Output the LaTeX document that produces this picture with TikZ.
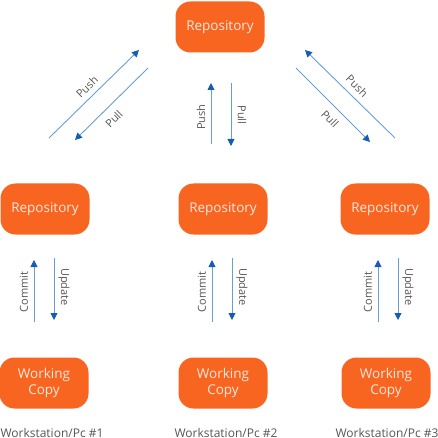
\documentclass[tikz,border=0pt]{standalone}
\usepackage{fontspec}
\setmainfont{Open Sans}
\usetikzlibrary{positioning,arrows.meta}
\definecolor{boxColor}{RGB}{247,101,33}
\definecolor{boxText}{RGB}{253,232,220}
\definecolor{lineColor}{RGB}{104,158,214}
\definecolor{headColor}{RGB}{21,92,178}
\definecolor{labelColor}{RGB}{85,85,85}
\tikzstyle{diagram} = [x = 1pt, y = -1pt]
\tikzstyle{repoBox} = [fill=boxColor, text=boxText, rounded corners = 15pt, minimum width = 89pt, minimum height = 51pt, font=\fontsize{13.5}{16}\selectfont, align=center, inner sep=0pt]
\tikzstyle{flowArrow} = [color=lineColor, line width=.9pt, -{Triangle[length=7pt, width=7pt, color=headColor]}]
\tikzstyle{arrowText} = [text=labelColor, font=\fontsize{11}{13}\selectfont, inner sep=0pt]
\tikzstyle{stationText} = [text=labelColor, font=\fontsize{12}{14}\selectfont, inner sep=0pt]
% one commit/update pair between a repository and its working copy
\newcommand{\commitPair}[2]{
  \coordinate (#2commitStart) at (#1, 322);
  \coordinate (#2commitEnd) at (#1, 260);
  \coordinate (#2updateStart) at (#1 + 20, 258);
  \coordinate (#2updateEnd) at (#1 + 20, 320);
  \draw [flowArrow] (#2commitStart) -- (#2commitEnd);
  \draw [flowArrow] (#2updateStart) -- (#2updateEnd);
  \node [arrowText, rotate=90] (#2commitText) at (#1 - 10, 292) {Commit};
  \node [arrowText, rotate=-90] (#2updateText) at (#1 + 30, 287) {Update};
}
\begin{document}
\begin{tikzpicture}[diagram]
  \useasboundingbox (0,0) rectangle (438,438);
  % repositories
  \node [repoBox] (repoTop) at (220,27) {Repository};
  \node [repoBox] (repoA) at (45,209) {Repository};
  \node [repoBox] (repoB) at (223,209) {Repository};
  \node [repoBox] (repoC) at (385,209) {Repository};
  % working copies
  \node [repoBox] (copyA) at (44,383) {Working\\Copy};
  \node [repoBox] (copyB) at (223,383) {Working\\Copy};
  \node [repoBox] (copyC) at (386,383) {Working\\Copy};
  % workstations
  \node [stationText] (stationA) at (52,433) {Workstation/Pc \#1};
  \node [stationText] (stationB) at (226,433) {Workstation/Pc \#2};
  \node [stationText] (stationC) at (387,433) {Workstation/Pc \#3};
  % push / pull, left
  \coordinate (pushAStart) at (49,138);
  \coordinate (pushAEnd) at (139,50);
  \coordinate (pullAStart) at (148,68);
  \coordinate (pullAEnd) at (75,140);
  \draw [flowArrow] (pushAStart) -- (pushAEnd);
  \draw [flowArrow] (pullAStart) -- (pullAEnd);
  \node [arrowText, rotate=45] (pushAText) at (87,87) {Push};
  \node [arrowText, rotate=45] (pullAText) at (114,119) {Pull};
  % push / pull, middle
  \coordinate (pushBStart) at (211,144);
  \coordinate (pushBEnd) at (211,83);
  \coordinate (pullBStart) at (231,83);
  \coordinate (pullBEnd) at (231,146);
  \draw [flowArrow] (pushBStart) -- (pushBEnd);
  \draw [flowArrow] (pullBStart) -- (pullBEnd);
  \node [arrowText, rotate=90] (pushBText) at (201,117) {Push};
  \node [arrowText, rotate=-90] (pullBText) at (242,115) {Pull};
  % push / pull, right
  \coordinate (pushCStart) at (395,138);
  \coordinate (pushCEnd) at (305,50);
  \coordinate (pullCStart) at (296,68);
  \coordinate (pullCEnd) at (370,142);
  \draw [flowArrow] (pushCStart) -- (pushCEnd);
  \draw [flowArrow] (pullCStart) -- (pullCEnd);
  \node [arrowText, rotate=-45] (pushCText) at (357,86) {Push};
  \node [arrowText, rotate=-45] (pullCText) at (330,119) {Pull};
  % commit / update
  \commitPair{34}{A}
  \commitPair{212}{B}
  \commitPair{378}{C}
\end{tikzpicture}
\end{document}
